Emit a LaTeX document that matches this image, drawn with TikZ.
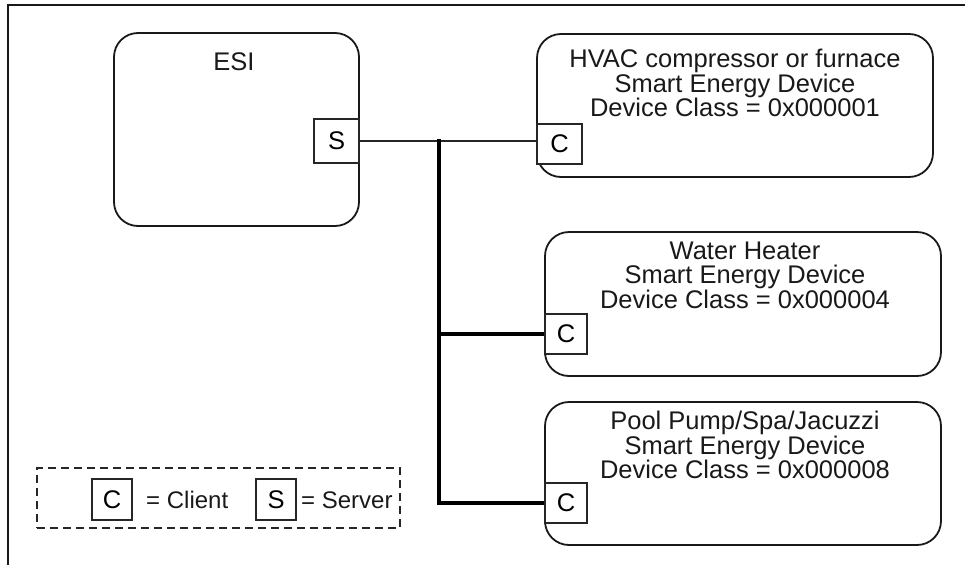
\documentclass[tikz,border=0pt]{standalone}
\usepackage{fontspec}
\setmainfont{Liberation Sans}
\begin{document}
\begin{tikzpicture}[x=1pt,y=-1pt,
  frame/.style={draw=black!90, line width=1.8pt},
  devbox/.style={draw=black!90, line width=1.8pt, rounded corners=24pt, inner sep=0pt},
  port/.style={draw=black!85, line width=1.3pt, fill=white, inner sep=0pt,
               font=\fontsize{25.5}{25.5}\selectfont},
  lbl/.style={align=center, inner sep=0pt, font=\fontsize{25.5}{24.5}\selectfont, text=black!90},
  leglbl/.style={inner sep=0pt, font=\fontsize{24}{24}\selectfont, text=black!90},
  wire/.style={draw=black!85, line width=1.5pt},
  bus/.style={draw=black, line width=3.4pt},
  legendbox/.style={draw=black!85, line width=1.8pt, dash pattern=on 8pt off 5pt, inner sep=0pt}
]
\useasboundingbox (0,0) rectangle (965,565);

% frame
\coordinate (fa) at (8,565);
\coordinate (fb) at (8,5);
\coordinate (fc) at (965,5);
\draw[frame] (fa) -- (fb) -- (fc);

% ESI
\node[devbox, minimum width=245pt, minimum height=193pt] (esi) at (236.5,129.5) {};
\node[lbl] (esiT) at (234,62) {ESI};
\node[port, minimum width=45pt, minimum height=44pt] (S) at (336.5,141) {S};

% HVAC
\node[devbox, minimum width=396pt, minimum height=143pt] (hvac) at (735,105.5) {};
\node[lbl] (hvacT) at (735,83) {HVAC compressor or furnace\\Smart Energy Device\\Device Class = 0x000001};
\node[port, minimum width=45pt, minimum height=40pt] (hvacC) at (559.5,144) {C};

% Water heater
\node[devbox, minimum width=396pt, minimum height=144pt] (water) at (743,304) {};
\node[lbl] (waterT) at (745,275) {Water Heater\\Smart Energy Device\\Device Class = 0x000004};
\node[port, minimum width=42pt, minimum height=40pt] (waterC) at (566,334) {C};

% Pool pump
\node[devbox, minimum width=396pt, minimum height=143pt] (pool) at (743,473.5) {};
\node[lbl] (poolT) at (745,445) {Pool Pump/Spa/Jacuzzi\\Smart Energy Device\\Device Class = 0x000008};
\node[port, minimum width=42pt, minimum height=40pt] (poolC) at (566,503) {C};

% connectors
\draw[wire] (S.east) -- (S.east -| hvacC.west);
\coordinate (bustop) at (439,139);
\draw[bus] (bustop) |- (poolC.west);
\draw[bus] (bustop |- waterC.west) -- (waterC.west);

% legend
\node[legendbox, minimum width=363pt, minimum height=60pt] (legend) at (218.5,498) {};
\node[port, minimum width=40pt, minimum height=41pt] (legC) at (112,499.5) {C};
\node[leglbl, anchor=west] (legCT) at (146,500) {= Client};
\node[port, minimum width=40pt, minimum height=41pt] (legS) at (276,499.5) {S};
\node[leglbl, anchor=west] (legST) at (301,500) {= Server};
\end{tikzpicture}
\end{document}
